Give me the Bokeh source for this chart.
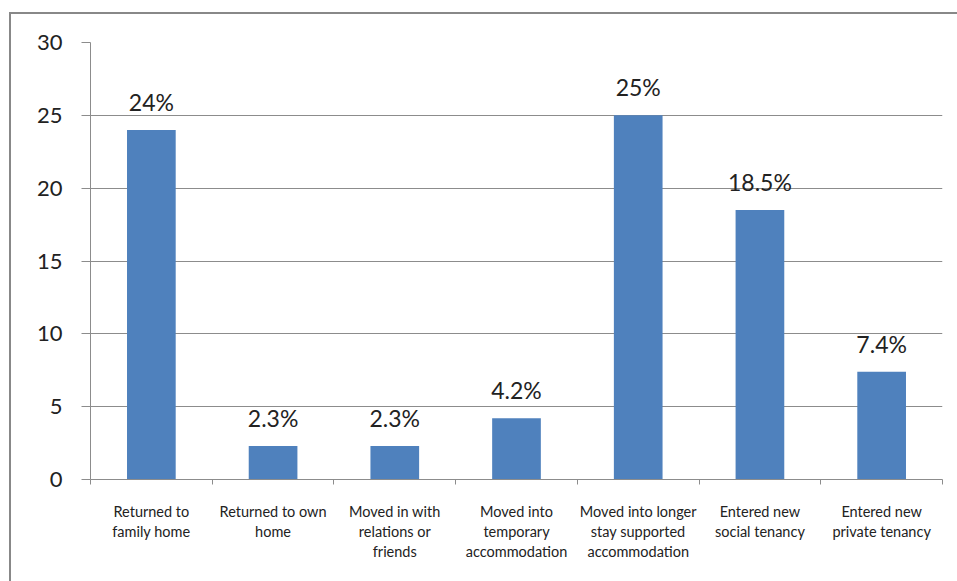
from bokeh.plotting import figure
from bokeh.models import FixedTicker, ColumnDataSource, Range1d
from bokeh.core.properties import value
from bokeh.embed import file_html
from bokeh.resources import INLINE

categories = ["Returned to\nfamily home", "Returned to own\nhome", "Moved in with\nrelations or\nfriends",
              "Moved into\ntemporary\naccommodation", "Moved into longer\nstay supported\naccommodation",
              "Entered new\nsocial tenancy", "Entered new\nprivate tenancy"]
values = [24, 2.3, 2.3, 4.2, 25, 18.5, 7.4]
labels = ["24%", "2.3%", "2.3%", "4.2%", "25%", "18.5%", "7.4%"]
y_ticks = [0, 5, 10, 15, 20, 25, 30]

FONT = "Lato"
GRAY = "#8c8c8c"

xs = [i + 0.5 for i in range(len(categories))]
src = ColumnDataSource(dict(x=xs, top=values, label=labels))

p = figure(width=957, height=581, output_backend="svg", toolbar_location=None,
           x_range=Range1d(0, len(categories)), y_range=Range1d(0, 30),
           min_border_left=90, min_border_right=15, min_border_top=42, min_border_bottom=102)
p.outline_line_color = None
p.background_fill_color = "white"
p.border_fill_color = "white"

p.vbar(x="x", top="top", width=0.4, bottom=0, source=src, color="#4F81BD", line_color=None)
p.text(x="x", y="top", text="label", source=src, text_align="center", text_baseline="bottom",
       y_offset=-14, text_font=value(FONT), text_font_size="23px", text_color="#222222")

# y axis
p.yaxis.ticker = FixedTicker(ticks=y_ticks, minor_ticks=[])
p.yaxis.major_tick_out = 9
p.yaxis.major_tick_in = 0
p.yaxis.axis_line_color = GRAY
p.yaxis.major_tick_line_color = GRAY
p.yaxis.major_label_text_font = FONT
p.yaxis.major_label_text_font_size = "22px"
p.yaxis.major_label_text_color = "#222222"
p.yaxis.major_label_standoff = 19

# x axis: labels at centers, minor ticks at boundaries
p.xaxis.ticker = FixedTicker(ticks=xs, minor_ticks=list(range(len(categories) + 1)))
p.xaxis.major_label_overrides = {x: c for x, c in zip(xs, categories)}
p.xaxis.major_tick_out = 0
p.xaxis.major_tick_in = 0
p.xaxis.minor_tick_out = 5
p.xaxis.minor_tick_in = 0
p.xaxis.minor_tick_line_color = GRAY
p.xaxis.axis_line_color = GRAY
p.xaxis.major_label_text_font = FONT
p.xaxis.major_label_text_font_size = "14.5px"
p.xaxis.major_label_text_color = "#222222"
p.xaxis.major_label_standoff = 18
p.xaxis.major_label_text_line_height = 1.2

p.xgrid.grid_line_color = None
p.ygrid.ticker = FixedTicker(ticks=y_ticks)
p.ygrid.grid_line_color = GRAY

# outer chart-area border (partly cut off at right/bottom as in the reference)
p.stylesheets = [":host { position: relative; overflow: hidden; }"
                 ":host::after { content: ''; position: absolute; left: 9px; top: 12px; "
                 "width: 1000px; height: 1000px; border: 2px solid #888888; "
                 "pointer-events: none; box-sizing: border-box; }"]

open("out.html", "w").write(file_html(p, INLINE))
